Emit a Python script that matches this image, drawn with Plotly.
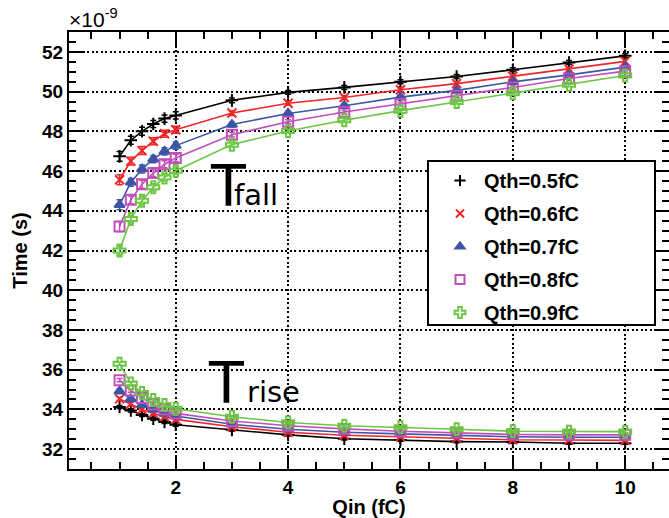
import plotly.graph_objects as go

# ---------------- data ----------------
qin = [1, 1.2, 1.4, 1.6, 1.8, 2, 3, 4, 5, 6, 7, 8, 9, 10]

labels = ["Qth=0.5fC", "Qth=0.6fC", "Qth=0.7fC", "Qth=0.8fC", "Qth=0.9fC"]

fall_05 = [46.74, 47.55, 48.00, 48.37, 48.64, 48.80, 49.56, 49.96, 50.21, 50.49, 50.76, 51.10, 51.46, 51.80]
fall_06 = [45.56, 46.50, 47.03, 47.50, 47.88, 48.08, 48.92, 49.41, 49.70, 50.09, 50.40, 50.77, 51.13, 51.52]
fall_07 = [44.30, 45.43, 46.10, 46.60, 46.99, 47.28, 48.34, 48.90, 49.29, 49.72, 50.06, 50.49, 50.84, 51.23]
fall_08 = [43.21, 44.55, 45.34, 45.90, 46.34, 46.66, 47.83, 48.48, 48.97, 49.38, 49.79, 50.21, 50.66, 51.03]
fall_09 = [42.00, 43.58, 44.50, 45.18, 45.68, 46.02, 47.33, 48.02, 48.56, 49.04, 49.48, 49.92, 50.35, 50.81]

rise_05 = [34.12, 33.95, 33.72, 33.53, 33.37, 33.23, 32.97, 32.72, 32.52, 32.46, 32.38, 32.36, 32.30, 32.30]
rise_06 = [34.53, 34.28, 34.00, 33.80, 33.63, 33.50, 33.13, 32.85, 32.70, 32.62, 32.54, 32.47, 32.46, 32.44]
rise_07 = [34.92, 34.53, 34.23, 34.00, 33.80, 33.67, 33.25, 33.00, 32.85, 32.77, 32.69, 32.62, 32.60, 32.60]
rise_08 = [35.47, 34.95, 34.58, 34.25, 34.00, 33.80, 33.42, 33.18, 33.02, 32.90, 32.82, 32.74, 32.72, 32.72]
rise_09 = [36.30, 35.30, 34.83, 34.47, 34.22, 34.03, 33.63, 33.34, 33.18, 33.10, 33.00, 32.90, 32.88, 32.88]

err_fall = [0.25, 0.20, 0.20, 0.18, 0.18, 0.18, 0.12, 0.10, 0.10, 0.10, 0.10, 0.10, 0.10, 0.10]
err_rise = [0.08, 0.08, 0.08, 0.08, 0.08, 0.08, 0.06, 0.06, 0.06, 0.06, 0.06, 0.06, 0.06, 0.06]

fall = [fall_05, fall_06, fall_07, fall_08, fall_09]
rise = [rise_05, rise_06, rise_07, rise_08, rise_09]

x_ticks = [2, 4, 6, 8, 10]
y_ticks = [32, 34, 36, 38, 40, 42, 44, 46, 48, 50, 52]

# ---------------- styles ----------------
colors = ["#000000", "#f0262a", "#3c55a5", "#c04fba", "#6cc644"]
symbols = ["cross-thin", "x-thin", "triangle-up", "square-open", "cross-open"]
msizes = [9, 9, 9, 10, 10]

W, H = 669, 518
L, R, T, B = 69, 0, 32, 49


def px(xp):
    return (xp - L) / (W - L - R)


def py(yp):
    return (H - B - yp) / (H - T - B)


fig = go.Figure()

for i in range(5):
    c = colors[i]
    mk = dict(symbol=symbols[i], size=msizes[i], color=c,
              line=dict(color=c, width=2))
    for ys, es in ((fall[i], err_fall), (rise[i], err_rise)):
        fig.add_trace(go.Scatter(
            x=qin, y=ys, mode="lines+markers",
            line=dict(color=c, width=1.6),
            marker=mk,
            error_y=dict(type="data", array=es, color=c, thickness=1.5, width=3),
            showlegend=False, hoverinfo="x+y",
        ))
    # legend-only entry (markers only, as in the reference)
    fig.add_trace(go.Scatter(
        x=[None], y=[None], mode="markers", name=labels[i],
        marker=dict(symbol=symbols[i], size=msizes[i] - 1, color=c,
                    line=dict(color=c, width=2)),
        legendgroup=labels[i], showlegend=True,
    ))

axis_common = dict(
    automargin=False,
    showline=True, linewidth=2, linecolor="black", mirror="ticks",
    ticks="inside", ticklen=14, tickwidth=2, tickcolor="black",
    showgrid=True, gridcolor="black", gridwidth=1.5, griddash="2px,2.5px",
    zeroline=False,
    tickfont=dict(family="Liberation Sans", size=19, color="black", weight="bold"),
    minor=dict(dtick=0.5, tick0=0, ticks="inside", ticklen=7, tickwidth=2,
               tickcolor="black", showgrid=False),
)

fig.update_xaxes(range=[0.1, 10.78], tickvals=x_ticks, **axis_common,
                 title=dict(text="Qin (fC)", standoff=5,
                            font=dict(family="Liberation Sans", size=20,
                                      color="black", weight="bold")))
fig.update_yaxes(range=[31, 53], tickvals=y_ticks, **axis_common,
                 title=dict(text="Time (s)", standoff=9,
                            font=dict(family="Liberation Sans", size=20,
                                      color="black", weight="bold")))

# legend box
fig.add_shape(type="rect", xref="paper", yref="paper",
              x0=px(428), x1=px(655), y0=py(325), y1=py(161),
              fillcolor="white", line=dict(color="black", width=2), layer="above")

annots = [
    dict(text="T", x=px(208), y=py(186), size=57),
    dict(text="fall", x=px(232), y=py(195), size=29),
    dict(text="T", x=px(206), y=py(383), size=57),
    dict(text="rise", x=px(245), y=py(392), size=29),
]
for a in annots:
    fig.add_annotation(text=a["text"], xref="paper", yref="paper",
                       x=a["x"], y=a["y"], xanchor="left", yanchor="middle",
                       showarrow=False,
                       font=dict(family="DejaVu Sans", size=a["size"], color="black"))

fig.add_annotation(text="×10<sup>-9</sup>", xref="paper", yref="paper",
                   x=px(67), y=py(33), xanchor="left", yanchor="bottom",
                   showarrow=False,
                   font=dict(family="Liberation Sans", size=21, color="black"))

fig.update_layout(
    width=W, height=H,
    margin=dict(l=L, r=R, t=T, b=B, pad=0, autoexpand=False),
    plot_bgcolor="white", paper_bgcolor="white",
    legend=dict(x=px(436), y=py(161), xanchor="left", yanchor="top",
                bgcolor="rgba(0,0,0,0)", borderwidth=0,
                font=dict(family="Liberation Sans", size=20, color="black", weight="bold"),
                itemwidth=38, tracegroupgap=4, traceorder="grouped"),
)

fig.write_html("out.html",
               config={"displayModeBar": False},
               post_script="document.body.style.margin='0';document.body.style.overflow='hidden';")
